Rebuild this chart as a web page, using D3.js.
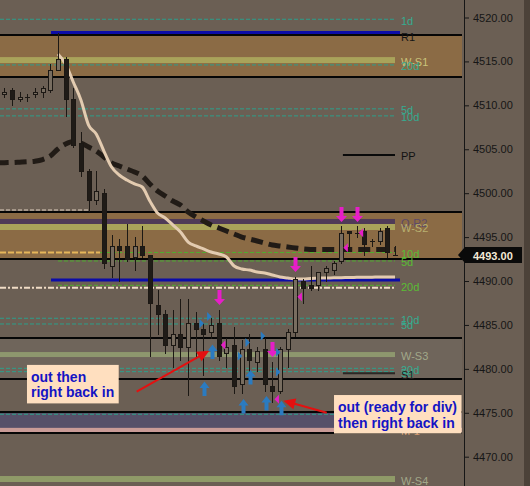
<!DOCTYPE html>
<html>
<head>
<meta charset="utf-8">
<script src="https://cdn.jsdelivr.net/npm/d3@7"></script>
<style>
  body { margin: 0; background: #6b5f54; }
  svg { display: block; font-family: "Liberation Sans", Arial, sans-serif; }
</style>
</head>
<body>
<script>
// ---- data (prices) ----
const bars = d3.range(52)
const opens = [4511.25, 4511.75, 4510.75, 4511, 4511.25, 4511.5, 4511.75, 4514, 4515.25, 4510.75,
    4505.75, 4502.5, 4499.25, 4500, 4491.75, 4494, 4494, 4492.75, 4494, 4493,
    4487.25, 4486.25, 4482.75, 4484, 4482.5, 4485.25, 4484.5, 4484.25, 4485.25, 4481.75,
    4482.75, 4478.25, 4482.25, 4480.75, 4482.25, 4478, 4477.5, 4482.25, 4484.25, 4490,
    4489.5, 4489.5, 4491, 4491.25, 4492.25, 4495.75, 4495.5, 4495.75, 4494.5, 4494.5,
    4496, 4493]
const highs = [4512, 4512, 4511.5, 4511.25, 4512, 4512.25, 4514.75, 4518.25, 4515.5, 4512,
    4507, 4502.75, 4502.5, 4500.5, 4495.25, 4494.75, 4496.5, 4495, 4496.25, 4493,
    4489, 4486.75, 4486.75, 4488, 4488, 4486.5, 4485.25, 4485.75, 4486.75, 4483.5,
    4484.75, 4483.25, 4484, 4482.5, 4483.5, 4480.75, 4482.5, 4484.5, 4490.5, 4490.25,
    4491.75, 4491, 4491.75, 4492.25, 4496.25, 4495.75, 4496.25, 4496, 4494.75, 4496,
    4496.25, 4494]
const lows = [4511, 4510, 4510.5, 4510.5, 4511, 4511, 4511.5, 4514, 4508.75, 4505.25,
    4502, 4498, 4498.75, 4491.5, 4490.5, 4490, 4492.25, 4491.25, 4492.75, 4481.5,
    4484, 4481.75, 4480.25, 4481, 4477, 4481.25, 4479.25, 4483.5, 4481, 4480.25,
    4477.25, 4477.25, 4479.5, 4479.75, 4477.5, 4476.25, 4477.25, 4480.25, 4483.75, 4487.5,
    4489, 4489, 4490, 4490.75, 4492, 4494, 4495, 4493, 4494, 4494.25,
    4492.75, 4493]
const closes = [4511.5, 4510.75, 4511, 4511, 4511.5, 4512, 4514, 4515.25, 4510.75, 4505.5,
    4502.5, 4499.25, 4500.25, 4492, 4494, 4493.5, 4492.5, 4494, 4493, 4487.5,
    4486.25, 4482.75, 4484, 4482.5, 4485.25, 4484.5, 4484, 4485, 4481.5, 4482.5,
    4478, 4482.25, 4481, 4482, 4478.25, 4477.5, 4482.25, 4484.25, 4490.25, 4489.25,
    4489.25, 4491, 4491.5, 4492, 4495.5, 4495.5, 4495.5, 4494.25, 4494.5, 4495.75,
    4493.25, 4493]

// fast average (light line), starts at bar 7
const fastMA = [4515.85, 4514.71, 4512.66, 4510.61, 4507.76, 4506.74, 4504.8, 4502.98, 4502.07, 4501.5,
    4501.05, 4500.7, 4499.11, 4497.74, 4497.17, 4496.38, 4495.58, 4494.44, 4493.99, 4493.65,
    4493.3, 4493.08, 4492.73, 4491.71, 4491.37, 4491.25, 4491.03, 4490.92, 4490.69, 4490.46,
    4490.35, 4490.23, 4490.23, 4490.29, 4490.32, 4490.35, 4490.36, 4490.38, 4490.4, 4490.42,
    4490.43, 4490.44, 4490.46, 4490.46, 4490.46]
// slow average (thick dashed line), starts at bar -1
const slowMA = [4503.44, 4503.47, 4503.49, 4503.53, 4503.57, 4503.64, 4503.83, 4504.23, 4505.03, 4505.6,
    4505.88, 4505.71, 4505.26, 4504.8, 4504.12, 4503.44, 4503.09, 4502.75, 4502.41, 4501.96,
    4501.05, 4500.25, 4499.68, 4499.11, 4498.65, 4497.86, 4497.29, 4496.83, 4496.38, 4496.04,
    4495.69, 4495.35, 4495.01, 4494.78, 4494.56, 4494.33, 4494.1, 4493.99, 4493.87, 4493.76,
    4493.65, 4493.6, 4493.59, 4493.59, 4493.59, 4493.59, 4493.59, 4493.59, 4493.59, 4493.59,
    4493.59, 4493.59, 4493.59]

// zones between black lines
const zoneTops = [4518.0, 4497.85, 4483.55, 4475.1]
const zoneBottoms = [4513.25, 4492.45, 4478.85, 4472.7]

// levels
const levelNames = ['1d', '', 'R1', 'W-S1', '20d', '5d', '10d', 'PP', '', 'Q-R2',
    'W-S2', '', '10d', '5d', '', '20d', '', '10d', '5d', 'W-S3',
    '20d', '5d', 'S1', '', 'M-1', 'W-S4']
const levelPrices = [4519.8, 4518.3, 4518.0, 4515.15, 4514.6, 4509.6, 4508.8, 4504.35, 4498.08, 4496.78,
    4496.15, 4493.25, 4493.25, 4492.28, 4490.12, 4489.51, 4489.24, 4485.76, 4485.11, 4481.63,
    4480.06, 4479.68, 4479.49, 4474.83, 4473.04, 4467.46]

// signals
const pinkDownBars = [28, 35, 38, 44, 46]
const pinkDownPrices = [4487.27, 4481.35, 4491.03, 4496.72, 4496.72]
const pinkLeftBars = [28, 35, 38, 44, 46]
const pinkLeftPrices = [4482.72, 4476.53, 4488.21, 4493.79, 4495.5]
const blueUpBars = [26, 27, 31, 32, 34, 36]
const blueUpPrices = [4478.56, 4482.77, 4476.57, 4479.87, 4476.91, 4476.38]
const blueRightBars = [26, 27, 31, 32, 34, 36, 36]
const blueRightPrices = [4485.15, 4485.95, 4481.45, 4483.0, 4483.75, 4481.9, 4479.65]

const priceTicks = [4470, 4475, 4480, 4485, 4490, 4495, 4500, 4505, 4510, 4515, 4520]
const lastPrice = 4493

// notes
const noteLines = [['out then', 'right back in'], ['out (ready for div)', 'then right back in']]
const noteBars = [2.96, 43.04]
const notePrices = [4480.45, 4477.02]
const arrowFromBars = [17.28, 42.09]
const arrowFromPrices = [4477.4, 4475.0]
const arrowToBars = [26.76, 36.42]
const arrowToPrices = [4482.07, 4476.38]

// ---- layout ----
const W = 530, H = 486
const plotRight = 462
const axisX = 464

const x = d3.scaleLinear().domain([0, 51]).range([4.3, 395])
const y = d3.scaleLinear().domain([4470, 4520]).range([456.7, 17.5])

const svg = d3.select('body').append('svg')
    .attr('width', W)
    .attr('height', H)

svg.append('rect').attr('width', W).attr('height', H).attr('fill', '#6b5f54')
svg.append('rect').attr('x', 524).attr('width', 6).attr('height', H).attr('fill', '#4c4239')

// zone fills
const zoneFill = ['#8b6b45', '#8b6b45', '#6f655b', '#565069']
svg.selectAll('.zone')
    .data(zoneTops)
    .enter().append('rect')
    .attr('class', 'zone')
    .attr('x', 0)
    .attr('width', plotRight)
    .attr('y', (d) => y(d))
    .attr('height', (d, i) => y(zoneBottoms[i]) - y(d))
    .attr('fill', (d, i) => zoneFill[i])

// level styles, by position in levelNames
const S = {
    teal: {line: '#2d9f8b', w: 1, dash: '4,2', from: -1, to: 51, text: '#36ab91'},
    green: {line: '#4fae2f', w: 1, dash: '4,2', from: 7, to: 51, text: '#5abd35'},
    greenLate: {line: '#4fae2f', w: 1, dash: '4,2', from: 12.5, to: 51, text: '#5abd35'},
    orange: {line: '#e6b65a', w: 2, dash: '6,2', from: -1, to: 12.5},
    gray: {line: '#b9aa9a', w: 1.5, dash: '4,2', from: -1, to: 11.2},
    blue: {line: '#0c0ca8', w: 3, from: 6.1, to: 51.65},
    beige: {line: '#f0dcc5', w: 2, dash: '6,2,2,2', from: -1, to: 51},
    tag: {text: '#151515'},
    olive: {band: '#a9a35a', h: 6, from: -1, to: 51, text: '#c9c27a'},
    olive2: {band: '#a9a35a', h: 6, from: -1, to: 51, text: '#b8b070'},
    purple: {band: '#4f3b57', h: 5, from: -1, to: 51, text: '#5d4a6a'},
    sage: {band: '#8e976e', h: 5, from: -1, to: 51, text: '#a2a88a'},
    sage6: {band: '#8f9a68', h: 6, from: -1, to: 51, text: '#a2a88a'},
    pink: {band: '#c99b97', h: 4.3, from: -1, to: 'end', text: '#d49a70'},
    pp: {line: '#0a0a0a', w: 2, from: 44.2, to: 51, text: '#121212'},
    s1: {line: '#2b2724', w: 2, from: 44.2, to: 51, text: '#1e1e1e'}
}
const levelKinds = ['teal', 'blue', 'tag', 'olive', 'teal', 'teal', 'teal', 'pp', 'gray', 'purple',
    'olive2', 'orange', 'greenLate', 'green', 'blue', 'green', 'beige', 'teal', 'teal', 'sage',
    'teal', 'teal', 's1', 'teal', 'pink', 'sage6']

const xFrom = (s) => Math.max(0, x(s.from))
const xTo = (s) => s.to === 'end' ? plotRight : x(s.to)

const levels = svg.append('g')
levelPrices.forEach((p, i) => {
    const s = S[levelKinds[i]]
    if (s.band) {
        levels.append('rect')
            .attr('x', xFrom(s))
            .attr('width', xTo(s) - xFrom(s))
            .attr('y', y(p) - s.h / 2)
            .attr('height', s.h)
            .attr('fill', s.band)
    } else if (s.line) {
        levels.append('line')
            .attr('x1', xFrom(s))
            .attr('x2', xTo(s))
            .attr('y1', y(p))
            .attr('y2', y(p))
            .attr('stroke', s.line)
            .attr('stroke-width', s.w)
            .attr('stroke-dasharray', s.dash || null)
    }
})

// zone borders
const borders = zoneTops.concat(zoneBottoms)
svg.selectAll('.border')
    .data(borders)
    .enter().append('line')
    .attr('class', 'border')
    .attr('x1', 0)
    .attr('x2', plotRight)
    .attr('y1', (d) => Math.round(y(d)))
    .attr('y2', (d) => Math.round(y(d)))
    .attr('stroke', '#060606')
    .attr('stroke-width', 2)

// moving averages
svg.append('path')
    .datum(slowMA)
    .attr('d', d3.line().x((d, k) => x(k - 1)).y((d) => y(d)).curve(d3.curveMonotoneX))
    .attr('fill', 'none')
    .attr('stroke', '#211b16')
    .attr('stroke-width', 5)
    .attr('stroke-dasharray', '12,6')

svg.append('path')
    .datum(fastMA)
    .attr('d', d3.line().x((d, k) => x(k + 7)).y((d) => y(d)).curve(d3.curveMonotoneX))
    .attr('fill', 'none')
    .attr('stroke', '#e3cbb0')
    .attr('stroke-width', 3)
    .attr('stroke-linejoin', 'round')

// candles
const cx = (i) => Math.round(x(i))
const candles = svg.append('g')
candles.selectAll('line')
    .data(bars)
    .enter().append('line')
    .attr('x1', (i) => cx(i) + 0.5)
    .attr('x2', (i) => cx(i) + 0.5)
    .attr('y1', (i) => Math.round(y(highs[i])))
    .attr('y2', (i) => Math.round(y(lows[i])) + 1)
    .attr('stroke', '#1c1814')
candles.selectAll('rect')
    .data(bars)
    .enter().append('rect')
    .attr('x', (i) => cx(i) - 1.5)
    .attr('width', 4)
    .attr('y', (i) => Math.round(y(Math.max(opens[i], closes[i]))) + 0.5)
    .attr('height', (i) => Math.max(0.001, Math.round(y(Math.min(opens[i], closes[i]))) - Math.round(y(Math.max(opens[i], closes[i])))))
    .attr('fill', (i) => closes[i] > opens[i] ? '#786d60' : '#1f1b17')
    .attr('stroke', '#1c1814')

// signal marks
const sig = svg.append('g')
pinkDownBars.forEach((b, k) => {
    const px = cx(b) + 0.5, py = y(pinkDownPrices[k])
    sig.append('path')
        .attr('d', `M${px - 2},${py - 15}h4v9h3.5l-5.5,6l-5.5,-6h3.5z`)
        .attr('fill', '#e61ec8')
})
pinkLeftBars.forEach((b, k) => {
    const px = x(b) + 2, py = y(pinkLeftPrices[k])
    sig.append('path')
        .attr('d', `M${px},${py}l4.5,-4.5v9z`)
        .attr('fill', '#e61ec8')
})
blueUpBars.forEach((b, k) => {
    const px = cx(b) + 1.5, py = y(blueUpPrices[k])
    sig.append('path')
        .attr('d', `M${px},${py}l5,6.5h-3v8h-4v-8h-3z`)
        .attr('fill', '#2b7bc0')
})
blueRightBars.forEach((b, k) => {
    const px = x(b) + 0.5, py = y(blueRightPrices[k])
    sig.append('path')
        .attr('d', `M${px},${py}l-4.5,-4.5v9z`)
        .attr('fill', '#2b7bc0')
})

// level labels
const labelX = x(51) + 6
levelPrices.forEach((p, i) => {
    if (!levelNames[i]) return
    svg.append('text')
        .attr('x', labelX)
        .attr('y', y(p) + 5.5)
        .attr('fill', S[levelKinds[i]].text)
        .style('font-size', '11px')
        .text(levelNames[i])
})

// price axis
svg.append('line')
    .attr('x1', axisX + 0.5).attr('x2', axisX + 0.5)
    .attr('y1', 0).attr('y2', H)
    .attr('stroke', '#161616')
const ax = svg.append('g')
    .attr('transform', 'translate(' + axisX + ',0)')
    .call(d3.axisRight(y).tickValues(priceTicks).tickFormat(d3.format('.2f')).tickSize(5).tickPadding(4))
ax.select('.domain').remove()
ax.selectAll('line').attr('stroke', '#161616')
ax.selectAll('text')
    .attr('fill', '#161616')
    .style('font-family', '"Liberation Sans", Arial, sans-serif')
    .style('font-size', '11px')

// last price tag
const ly = Math.round(y(lastPrice))
svg.append('path')
    .attr('d', `M458,${ly}L465,${ly - 8}H522V${ly + 8}H465Z`)
    .attr('fill', '#0a0a0a')
svg.append('text')
    .attr('x', 473)
    .attr('y', ly + 4.5)
    .attr('fill', '#f3e9d6')
    .style('font-size', '11px')
    .style('font-weight', 'bold')
    .text(d3.format('.2f')(lastPrice))

// red arrows
arrowFromBars.forEach((b, k) => {
    const x1 = x(b), y1 = y(arrowFromPrices[k])
    const x2 = x(arrowToBars[k]), y2 = y(arrowToPrices[k])
    const ang = Math.atan2(y2 - y1, x2 - x1)
    const len = Math.hypot(x2 - x1, y2 - y1)
    const g = svg.append('g')
        .attr('transform', 'translate(' + x1 + ',' + y1 + ') rotate(' + (ang * 180 / Math.PI) + ')')
    g.append('line')
        .attr('x1', 0).attr('x2', len - 8)
        .attr('y1', 0).attr('y2', 0)
        .attr('stroke', '#e41010')
        .attr('stroke-width', 2)
    g.append('path')
        .attr('d', `M${len},0L${len - 12},-5.5L${len - 12},5.5Z`)
        .attr('fill', '#e41010')
})

// note boxes
noteLines.forEach((lines, k) => {
    const g = svg.append('g')
        .attr('transform', 'translate(' + x(noteBars[k]) + ',' + y(notePrices[k]) + ')')
    const box = g.append('rect').attr('fill', '#ffdfbf')
    const t = g.append('g')
    lines.forEach((s, j) => {
        t.append('text')
            .attr('x', 4)
            .attr('y', 17 + j * 15.5)
            .attr('fill', '#1414c4')
            .style('font-size', '14px')
            .style('font-weight', 'bold')
            .text(s)
    })
    const bb = t.node().getBBox()
    box.attr('width', bb.width + 8.5).attr('height', 38.5)
})
</script>
</body>
</html>
